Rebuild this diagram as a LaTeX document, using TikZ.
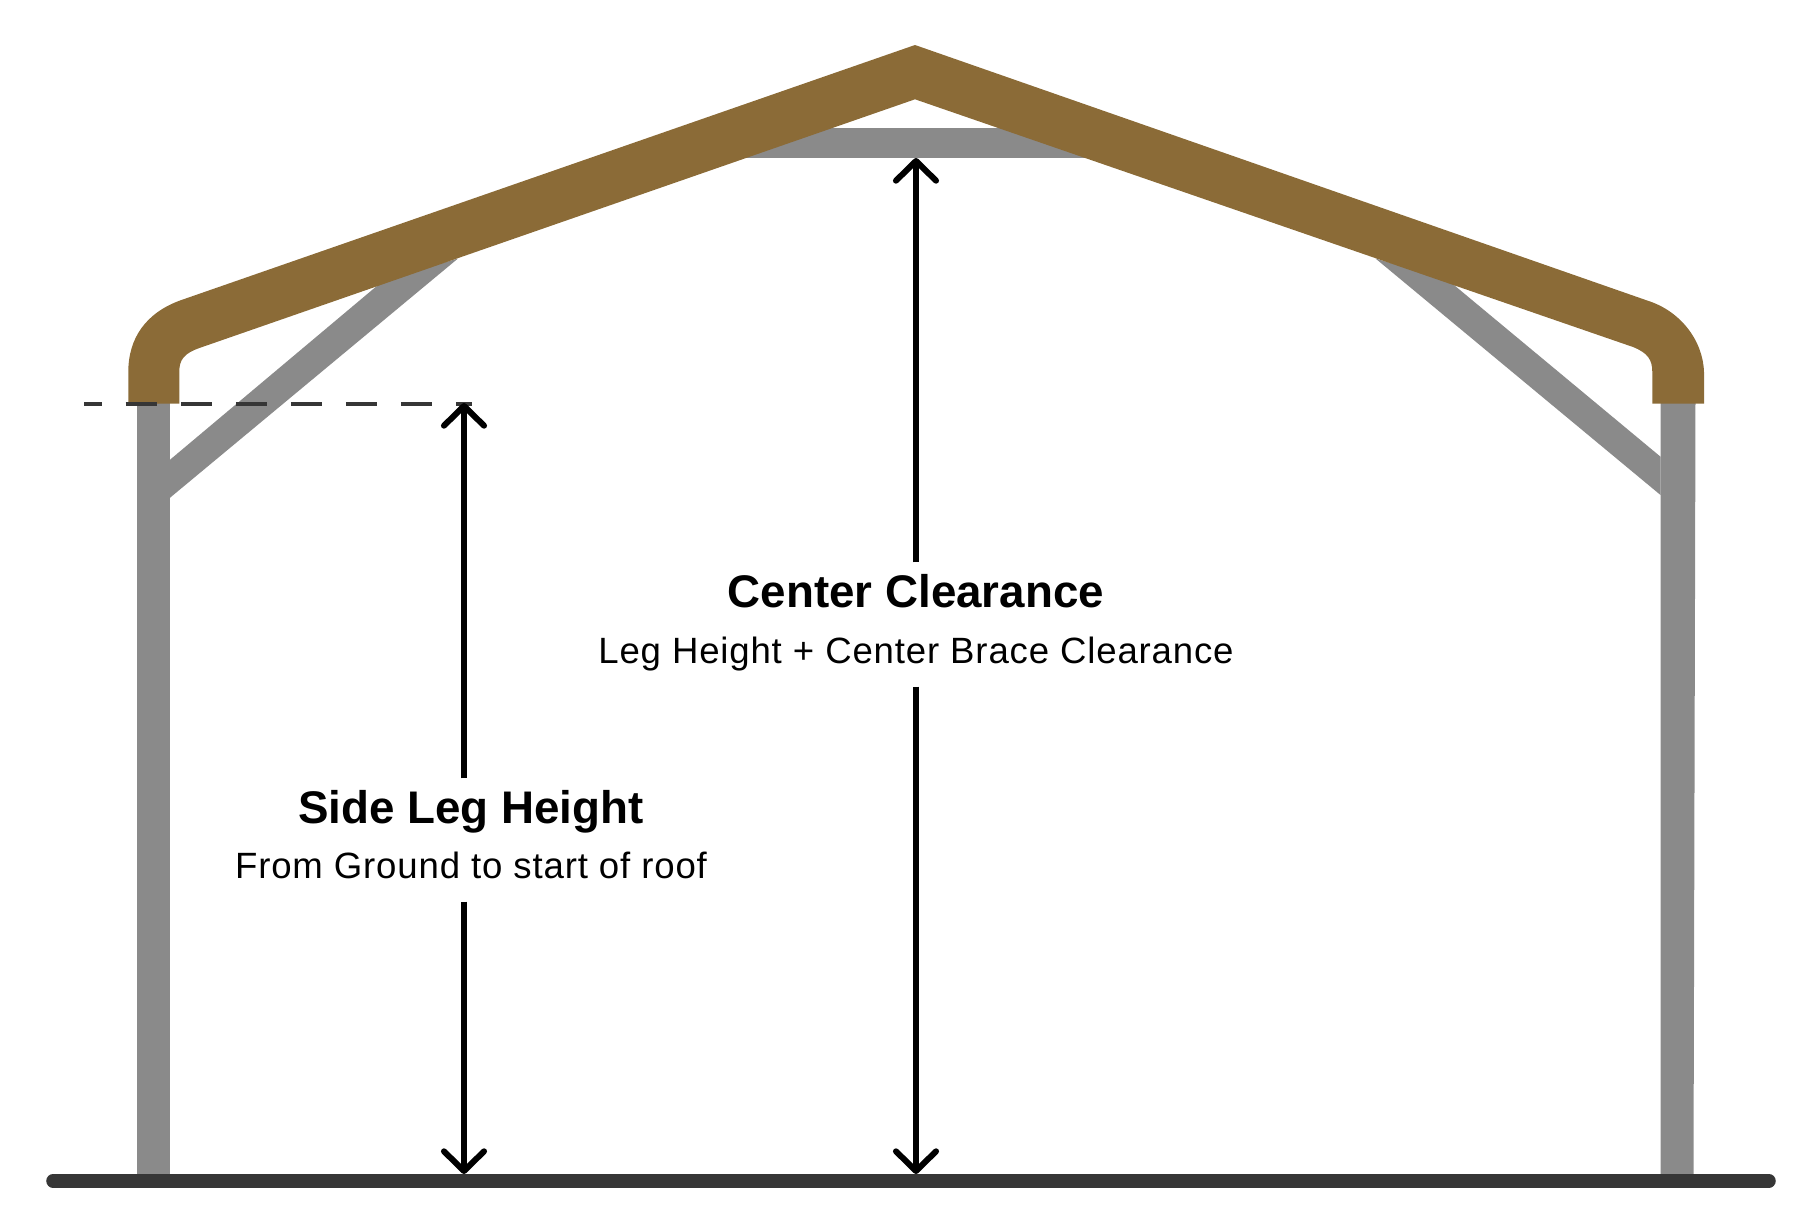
\documentclass[tikz,border=0pt]{standalone}
\usepackage{fontspec}
\usetikzlibrary{arrows.meta}
\setmainfont{Liberation Sans}
\newfontfamily\titlefont{Liberation Sans Bold}
\newfontfamily\subfont[LetterSpace=2.3]{Liberation Sans}
\definecolor{steelgray}{HTML}{8A8A8A}
\definecolor{roofbrown}{HTML}{8B6B37}
\definecolor{groundgray}{HTML}{363636}
\tikzset{
  steel/.style={fill=steelgray},
  roof/.style={fill=roofbrown},
  dimline/.style={line width=6*0.01cm, draw=black, -{Straight Barb[length=5.6pt, width=11.4pt, round]}},
  titletext/.style={anchor=base, inner sep=4pt, text height=8.5pt, font=\titlefont\fontsize{13}{15}\selectfont},
  subtext/.style={anchor=base, inner sep=4.5pt, text depth=2pt, font=\subfont\fontsize{10.4}{12}\selectfont},
}
\begin{document}
\begin{tikzpicture}[x=0.01cm, y=-0.01cm]
\useasboundingbox (0,0) rectangle (1808,1212);

% posts and braces
\fill[steel] (137.3,400) rectangle (169.7,1176);
\fill[steel] (1660.5,400) -- (1695.5,400) -- (1693.5,1176) -- (1660.5,1176) -- cycle;
\fill[steel] (169.7,460) -- (375.3,287.3) -- (383.6,280.3) -- (458,258.5) -- (169.7,498) -- cycle;
\fill[steel] (1660.5,456.7) -- (1456.7,287.3) -- (1448.4,280.3) -- (1375.5,258.5) -- (1660.5,495) -- cycle;
\fill[steel] (745,127.7) rectangle (1087,157.7);

% roof
\fill[roof] (128.3,403.5) -- (128.3,372) .. controls (128.3,338) and (146,313) .. (180,300.5)
  -- (915,45) -- (1648,300.8) .. controls (1680,311) and (1703,340) .. (1704,372)
  -- (1704,403.5) -- (1652.3,403.5) -- (1652.3,372) .. controls (1652.3,360) and (1648,353) .. (1633,347)
  -- (915,99.3) -- (200,347.8) .. controls (183.5,353.5) and (179.3,360) .. (179.3,372)
  -- (179.3,403.5) -- cycle;

% start of roof
\coordinate (dashstart) at (84,403.7);
\coordinate (dashend) at (471.7,403.7);
\draw[groundgray, line width=0.04cm, dash pattern=on 0.31cm off 0.24cm, dash phase=0.133cm] (dashstart) -- (dashend);

% dimensions
\coordinate (legtop) at (464,403);
\coordinate (legfoot) at (464,1174);
\coordinate (centertop) at (916,158);
\coordinate (centerfoot) at (916,1174);

\node[titletext] (legtitle) at (471,823) {Side Leg Height};
\node[subtext] (legsub) at (471,878) {From Ground to start of roof};
\node[titletext] (centertitle) at (916,607) {Center Clearance};
\node[subtext] (centersub) at (916,663) {Leg Height + Center Brace Clearance};

\draw[dimline] (legtop |- legtitle.north) -- (legtop);
\draw[dimline] (legfoot |- legsub.south) -- (legfoot);
\draw[dimline] (centertop |- centertitle.north) -- (centertop);
\draw[dimline] (centerfoot |- centersub.south) -- (centerfoot);

% ground
\coordinate (groundleft) at (53,1180.8);
\coordinate (groundright) at (1769,1180.8);
\draw[groundgray, line width=0.135cm, line cap=round] (groundleft) -- (groundright);
\end{tikzpicture}
\end{document}
